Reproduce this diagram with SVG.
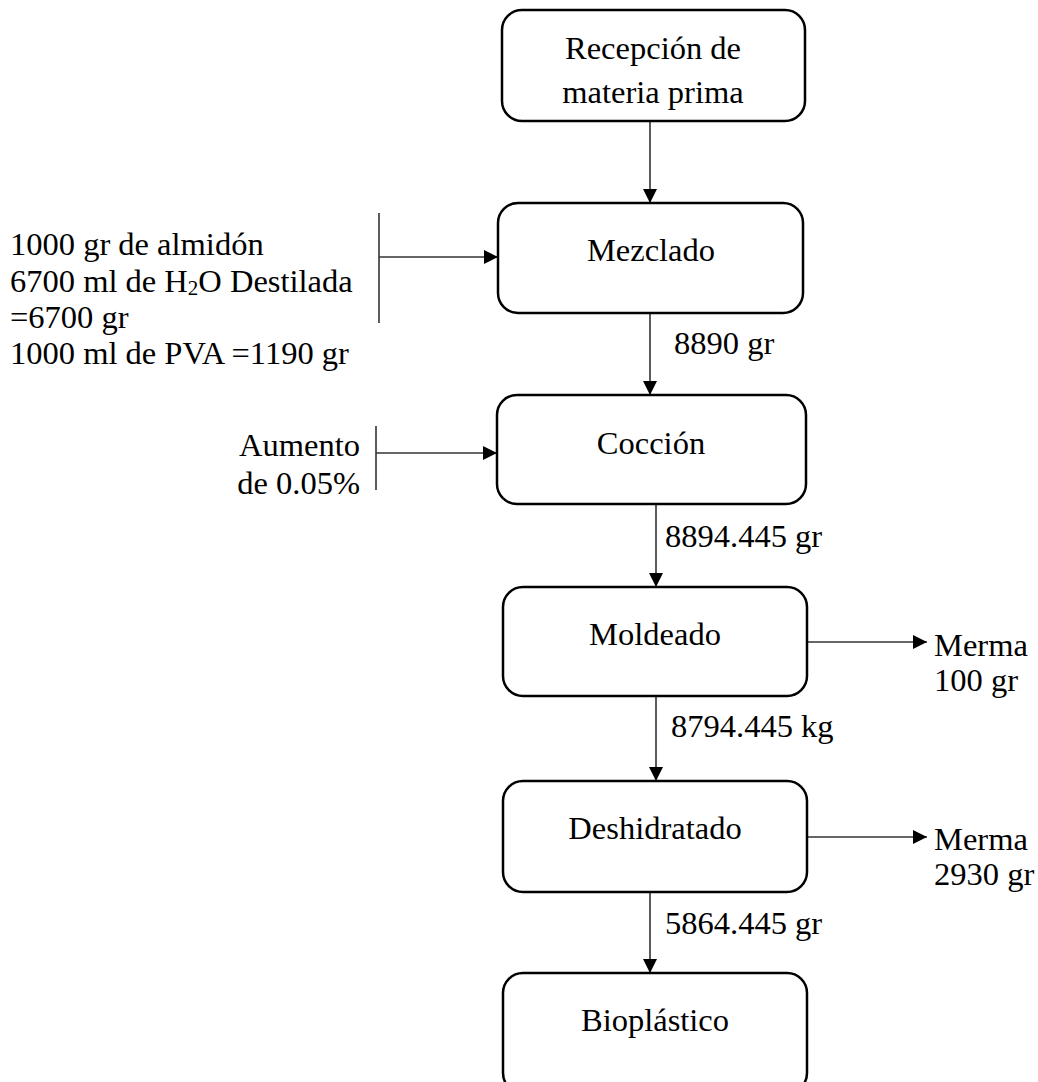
<svg xmlns="http://www.w3.org/2000/svg" width="1038" height="1082" viewBox="0 0 1038 1082">
  <style>
    .box { fill: #ffffff; stroke: #000000; stroke-width: 2.5; }
    .lbl { font-family: "Liberation Serif", "Times New Roman", serif; font-size: 32.5px; fill: #000000; }
    .mid { text-anchor: middle; }
    .end { text-anchor: end; }
    .flow { stroke: #333333; stroke-width: 1.6; fill: none; }
    .bar { stroke: #333333; stroke-width: 1.6; fill: none; }
  </style>
  <defs>
    <marker id="arrow" markerUnits="userSpaceOnUse" markerWidth="16" markerHeight="16" refX="14" refY="7" orient="auto">
      <path d="M0,0 L14,7 L0,14 z" fill="#000000"/>
    </marker>
  </defs>
  <rect width="1038" height="1082" fill="#ffffff"/>

  <!-- connectors -->
  <g id="connectors">
    <line class="flow" x1="650" y1="121" x2="650" y2="203" marker-end="url(#arrow)"/>
    <line class="flow" x1="650" y1="313" x2="650" y2="395" marker-end="url(#arrow)"/>
    <line class="flow" x1="656" y1="504" x2="656" y2="587" marker-end="url(#arrow)"/>
    <line class="flow" x1="656" y1="696" x2="656" y2="781" marker-end="url(#arrow)"/>
    <line class="flow" x1="650" y1="892" x2="650" y2="973" marker-end="url(#arrow)"/>
    <!-- inputs -->
    <line class="bar" x1="379" y1="213" x2="379" y2="323"/>
    <line class="flow" x1="379" y1="257" x2="498" y2="257" marker-end="url(#arrow)"/>
    <line class="bar" x1="376" y1="426" x2="376" y2="490"/>
    <line class="flow" x1="376" y1="453" x2="497" y2="453" marker-end="url(#arrow)"/>
    <!-- losses -->
    <line class="flow" x1="807" y1="642" x2="927" y2="642" marker-end="url(#arrow)"/>
    <line class="flow" x1="807" y1="837" x2="927" y2="837" marker-end="url(#arrow)"/>
    <!-- flow quantities -->
    <text class="lbl" x="674" y="354">8890 gr</text>
    <text class="lbl" x="665" y="547">8894.445 gr</text>
    <text class="lbl" x="671" y="737">8794.445 kg</text>
    <text class="lbl" x="665" y="934">5864.445 gr</text>
  </g>

  <!-- process steps -->
  <g id="recepcion">
    <rect class="box" x="502" y="10" width="303" height="111" rx="20"/>
    <text class="lbl mid" x="653" y="59">Recepción de</text>
    <text class="lbl mid" x="653" y="103">materia prima</text>
  </g>
  <g id="mezclado">
    <rect class="box" x="498" y="203" width="305" height="110" rx="20"/>
    <text class="lbl mid" x="651" y="261">Mezclado</text>
  </g>
  <g id="coccion">
    <rect class="box" x="497" y="395" width="309" height="109" rx="20"/>
    <text class="lbl mid" x="651" y="454">Cocción</text>
  </g>
  <g id="moldeado">
    <rect class="box" x="503" y="587" width="304" height="109" rx="20"/>
    <text class="lbl mid" x="655" y="645">Moldeado</text>
  </g>
  <g id="deshidratado">
    <rect class="box" x="503" y="781" width="304" height="111" rx="20"/>
    <text class="lbl mid" x="655" y="839">Deshidratado</text>
  </g>
  <g id="bioplastico">
    <rect class="box" x="503" y="973" width="304" height="120" rx="20"/>
    <text class="lbl mid" x="655" y="1031">Bioplástico</text>
  </g>

  <!-- inputs and losses -->
  <g id="insumos">
    <text class="lbl" x="10" y="255">1000 gr de almidón</text>
    <text class="lbl" x="10" y="292">6700 ml de H<tspan font-size="21" dy="3">2</tspan><tspan dy="-3">O Destilada</tspan></text>
    <text class="lbl" x="10" y="328">=6700 gr</text>
    <text class="lbl" x="10" y="364">1000 ml de PVA =1190 gr</text>
  </g>
  <g id="aumento">
    <text class="lbl end" x="360" y="456">Aumento</text>
    <text class="lbl end" x="360" y="494">de 0.05%</text>
  </g>
  <g id="merma-moldeado">
    <text class="lbl" x="934" y="656">Merma</text>
    <text class="lbl" x="934" y="691">100 gr</text>
  </g>
  <g id="merma-deshidratado">
    <text class="lbl" x="934" y="850">Merma</text>
    <text class="lbl" x="934" y="885">2930 gr</text>
  </g>
</svg>
